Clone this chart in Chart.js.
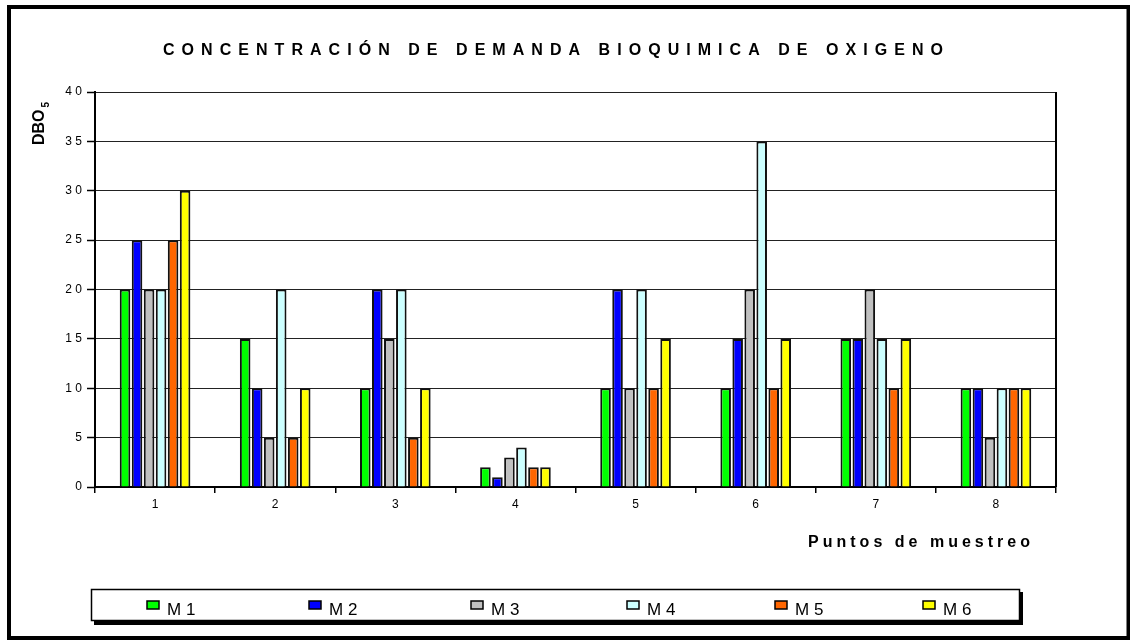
<!DOCTYPE html>
<html>
<head>
<meta charset="UTF-8">
<title>DBO5</title>
<script src="https://cdn.jsdelivr.net/npm/chart.js@4.4.0/dist/chart.umd.min.js"></script>
<style>
  body { margin: 0; background: #fff; }
  #wrap { width: 1130px; height: 640px; }
</style>
</head>
<body>
<div id="wrap"><canvas id="myChart" width="1130" height="640"></canvas></div>

<script>
// puntos de muestreo
var puntos = ['1', '2', '3', '4', '5', '6', '7', '8'];
var muestras = ['M 1', 'M 2', 'M 3', 'M 4', 'M 5', 'M 6'];

// DBO5 por muestra
var m1 = [20, 15, 10, 2, 10, 10, 15, 10];
var m2 = [25, 10, 20, 1, 20, 15, 15, 10];
var m3 = [20, 5, 15, 3, 10, 20, 20, 5];
var m4 = [20, 20, 20, 4, 20, 35, 15, 10];
var m5 = [25, 5, 5, 2, 10, 10, 10, 10];
var m6 = [30, 10, 10, 2, 15, 15, 15, 10];

var yTicks = [0, 5, 10, 15, 20, 25, 30, 35, 40];

var colores = ['#00FF00', '#0000FF', '#C0C0C0', '#CCFFFF', '#FF6600', '#FFFF00'];
var series = [m1, m2, m3, m4, m5, m6];

var datasets = series.map(function (s, i) {
  return {
    label: muestras[i],
    data: s,
    backgroundColor: colores[i],
    borderColor: '#111',
    borderWidth: 2,
    categoryPercentage: 0.6,
    barPercentage: 0.88
  };
});

var FONT = '"Liberation Sans", Arial, sans-serif';

// texto con espaciado entre letras hasta un ancho dado
function spaced(ctx, text, x, y, width) {
  ctx.letterSpacing = '0px';
  var w = ctx.measureText(text).width;
  var gap = (width - w) / (text.length - 1);
  ctx.letterSpacing = gap + 'px';
  ctx.textAlign = 'left';
  ctx.fillText(text, x, y);
  ctx.letterSpacing = '0px';
}

var legendX = [147, 309, 471, 627, 775, 923];

var decor = {
  id: 'decor',
  beforeDraw: function (chart) {
    var ctx = chart.ctx;
    ctx.save();
    ctx.fillStyle = '#fff';
    ctx.fillRect(0, 0, chart.width, chart.height);
    ctx.restore();
  },
  afterDraw: function (chart) {
    var ctx = chart.ctx;
    var a = chart.chartArea;
    ctx.save();

    // borde derecho del area
    ctx.strokeStyle = '#000';
    ctx.lineWidth = 2;
    ctx.beginPath();
    ctx.moveTo(a.right, a.top);
    ctx.lineTo(a.right, a.bottom);
    ctx.stroke();

    ctx.fillStyle = '#000';
    ctx.textBaseline = 'alphabetic';

    // titulo
    ctx.font = 'bold 16px ' + FONT;
    spaced(ctx, 'CONCENTRACIÓN DE DEMANDA BIOQUIMICA DE OXIGENO', 163, 55, 780);

    // titulo eje x
    ctx.font = 'bold 16px ' + FONT;
    spaced(ctx, 'Puntos de muestreo', 808, 547, 222);

    // titulo eje y
    ctx.save();
    ctx.translate(44, 145);
    ctx.rotate(-Math.PI / 2);
    ctx.font = 'bold 16px ' + FONT;
    ctx.textAlign = 'left';
    ctx.fillText('DBO', 0, 0);
    var dw = ctx.measureText('DBO').width;
    ctx.font = 'bold 10px ' + FONT;
    ctx.fillText('5', dw + 2, 5);
    ctx.restore();

    // leyenda
    ctx.fillStyle = '#000';
    ctx.fillRect(94, 592, 929, 33);
    ctx.fillStyle = '#fff';
    ctx.fillRect(91, 589, 929, 32);
    ctx.strokeStyle = '#000';
    ctx.lineWidth = 1.5;
    ctx.strokeRect(91.5, 589.5, 928, 31);

    ctx.font = '17px ' + FONT;
    chart.data.datasets.forEach(function (ds, i) {
      var x = legendX[i];
      ctx.fillStyle = ds.backgroundColor;
      ctx.fillRect(x, 601, 12, 8);
      ctx.strokeStyle = '#000';
      ctx.lineWidth = 1.5;
      ctx.strokeRect(x, 601, 12, 8);
      ctx.fillStyle = '#000';
      ctx.textAlign = 'left';
      ctx.fillText(ds.label, x + 20, 615);
    });

    // marco exterior
    ctx.strokeStyle = '#000';
    ctx.lineWidth = 4;
    ctx.strokeRect(9, 7, 1119.5, 631);

    ctx.restore();
  }
};

var config = {
  type: 'bar',
  data: { labels: puntos, datasets: datasets },
  options: {
    responsive: false,
    animation: false,
    layout: { padding: { left: 0, top: 92, right: 74, bottom: 123 } },
    plugins: {
      legend: { display: false },
      title: { display: false },
      tooltip: { enabled: false }
    },
    scales: {
      x: {
        afterFit: function (scale) { scale.height = 30; },
        grid: {
          offset: true,
          drawOnChartArea: false,
          drawTicks: true,
          tickLength: 6,
          color: '#000',
          lineWidth: 1.5
        },
        border: { display: true, color: '#000', width: 2 },
        ticks: {
          color: '#000',
          padding: 4,
          font: { family: FONT, size: 12 }
        }
      },
      y: {
        min: 0,
        max: 40,
        afterFit: function (scale) { scale.width = 95; },
        afterBuildTicks: function (scale) {
          scale.ticks = yTicks.map(function (v) { return { value: v }; });
        },
        grid: {
          color: '#222',
          lineWidth: 1,
          borderDash: [4, 1],
          tickBorderDash: [],
          tickLength: 8,
          tickColor: '#000',
          tickWidth: 1.5
        },
        border: { display: true, color: '#000', width: 2 },
        ticks: {
          color: '#000',
          padding: 5,
          font: { family: FONT, size: 12 },
          callback: function (v) { return String(v).split('').join(' '); }
        }
      }
    }
  },
  plugins: [decor]
};

var chart = new Chart(document.getElementById('myChart').getContext('2d'), config);
</script>
</body>
</html>
